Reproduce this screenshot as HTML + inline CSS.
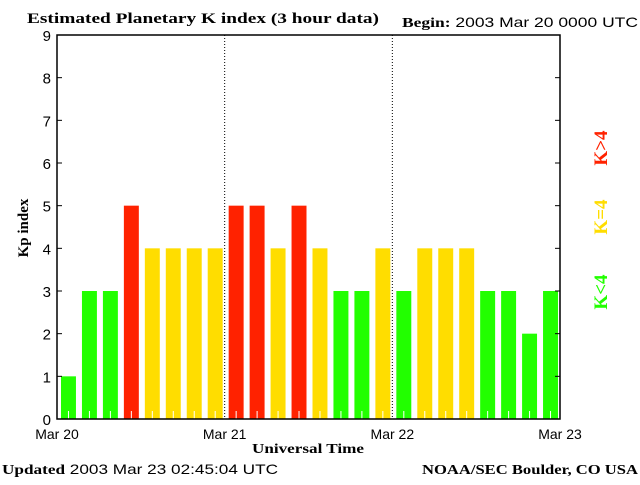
<!DOCTYPE html>
<html><head><meta charset="utf-8"><style>
body{margin:0;background:#fff;width:640px;height:480px;overflow:hidden}
svg text{font-family:"Liberation Sans",sans-serif}
svg text.serif, svg tspan.serif{font-family:"Liberation Serif",serif;font-weight:bold}
</style></head><body>
<svg id="c" width="640" height="480">
<text class="serif" x="27" y="23" font-size="15" textLength="352" lengthAdjust="spacingAndGlyphs">Estimated Planetary K index (3 hour data)</text>
<text x="402" y="27" font-size="14" textLength="236" lengthAdjust="spacingAndGlyphs"><tspan class="serif">Begin:</tspan>  2003 Mar 20 0000 UTC</text>
<text class="serif" x="28" y="228" font-size="15" transform="rotate(-90 28 228)" text-anchor="middle">Kp index</text>
<text class="serif" x="308" y="453" font-size="14" text-anchor="middle" textLength="112" lengthAdjust="spacingAndGlyphs">Universal Time</text>
<text x="2" y="474" font-size="14" textLength="276" lengthAdjust="spacingAndGlyphs"><tspan class="serif">Updated</tspan> 2003 Mar 23 02:45:04 UTC</text>
<text class="serif" x="422" y="474" font-size="14" textLength="216" lengthAdjust="spacingAndGlyphs">NOAA/SEC Boulder, CO USA</text>
<text class="serif" x="607" y="148" font-size="19" fill="#ff2200" transform="rotate(-90 607 148)" text-anchor="middle">K&gt;4</text>
<text class="serif" x="607" y="217" font-size="19" fill="#ffdd00" transform="rotate(-90 607 217)" text-anchor="middle">K=4</text>
<text class="serif" x="607" y="292" font-size="19" fill="#22ff00" transform="rotate(-90 607 292)" text-anchor="middle">K&lt;4</text>
<g id="plot"></g>
</svg>
<script>
const values=[1,3,3,5,4,4,4,4,5,5,4,5,4,3,3,4,3,4,4,4,3,3,2,3];
const yTicks=[0,1,2,3,4,5,6,7,8,9];
const dayLabels=["Mar 20","Mar 21","Mar 22","Mar 23"];
const L=57,R=560,T=35,B=419;
const y=v=>B-(v/9)*(B-T);
const slot=(R-L)/values.length;
const x=i=>L+i*slot;
const ns="http://www.w3.org/2000/svg";
const g=document.getElementById('plot');
function mk(t,a){const e=document.createElementNS(ns,t);for(const k in a)e.setAttribute(k,a[k]);g.appendChild(e);return e;}
values.forEach((v,i)=>{
 const col=v>4?"#ff2200":v==4?"#ffdd00":"#22ff00";
 const r=mk('rect',{x:x(i)+4,y:y(v),width:slot-6,height:B-y(v),fill:col});
 
 
 const t=mk('line',{x1:x(i)+slot/2+1,x2:x(i)+slot/2+1,y1:B-8,y2:B,stroke:"#fff"});
 
 
});
for(let d=1;d<dayLabels.length-1;d++){
 const xx=L+d*(R-L)/(dayLabels.length-1);
 const l=mk('line',{x1:xx,x2:xx,y1:T,y2:B,stroke:"#000","stroke-dasharray":"1,2"});
 
 
}
const fr=mk('rect',{x:L,y:T,width:R-L,height:B-T,fill:"none",stroke:"#000","stroke-width":1.5});


yTicks.forEach(v=>{
 const yy=y(v);
 const a=mk('line',{x1:L,x2:L+5,y1:yy,y2:yy,stroke:"#000"});
 
 
 const b=mk('line',{x1:R-5,x2:R,y1:yy,y2:yy,stroke:"#000"});
 
 
 const t=mk('text',{x:L-6,y:yy+6,"font-size":15,"text-anchor":"end"});
 t.textContent=v;
 
 
});
dayLabels.forEach((s,d)=>{
 const xx=L+d*(R-L)/(dayLabels.length-1);
 const t=mk('text',{x:xx,y:439,"font-size":14,"text-anchor":"middle"});
 t.textContent=s;
 
 
});
</script>
</body></html>
